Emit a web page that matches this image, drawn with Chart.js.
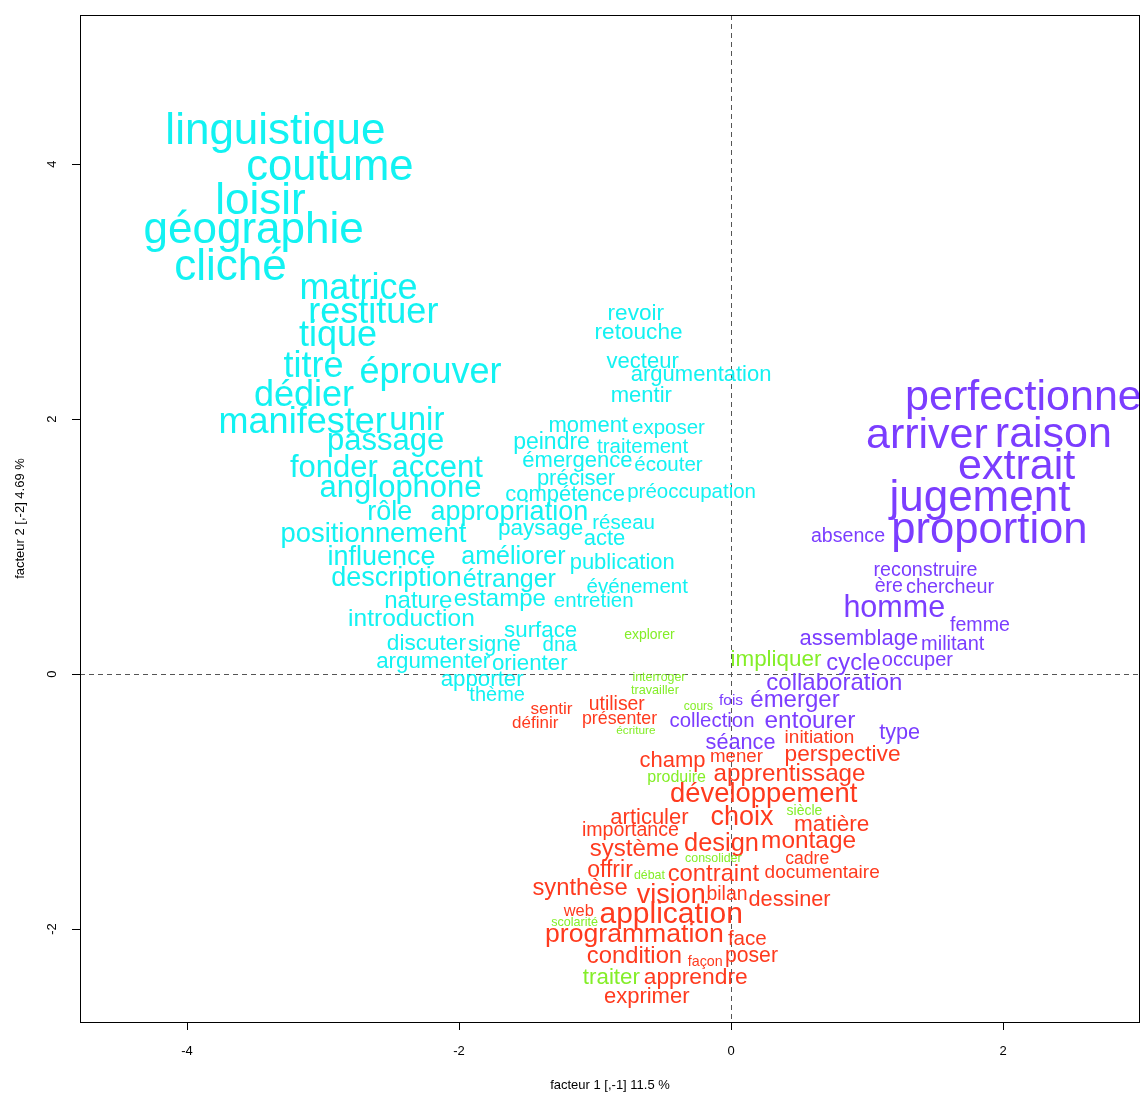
<!DOCTYPE html>
<html>
<head>
<meta charset="utf-8">
<script src="https://cdn.jsdelivr.net/npm/chart.js@4"></script>
<style>
  body { margin: 0; background: #fff; }
  canvas { display: block; }
</style>
</head>
<body>
<canvas id="afcChart" width="1141" height="1093"></canvas>
<script>
// Axis ticks
const xTicks = [-4, -2, 0, 2];
const yTicks = [-2, 0, 2, 4];

// Class 1 (cyan)
const cyanWords = ['linguistique', 'coutume', 'loisir', 'géographie', 'cliché', 'matrice', 'restituer', 'tique', 'titre', 'éprouver',
    'dédier', 'manifester', 'unir', 'passage', 'fonder', 'accent', 'anglophone', 'rôle', 'appropriation', 'positionnement',
    'influence', 'description', 'améliorer', 'étranger', 'publication', 'paysage', 'réseau', 'acte', 'nature', 'estampe',
    'événement', 'entretien', 'introduction', 'surface', 'discuter', 'signe', 'dna', 'argumenter', 'orienter', 'apporter',
    'thème', 'revoir', 'retouche', 'vecteur', 'argumentation', 'mentir', 'moment', 'exposer', 'peindre', 'traitement',
    'émergence', 'écouter', 'préciser', 'compétence', 'préoccupation'];
const cyanX = [-3.35, -2.95, -3.46, -3.51, -3.68, -2.74, -2.63, -2.89, -3.07, -2.21,
    -3.14, -3.15, -2.31, -2.54, -2.92, -2.16, -2.43, -2.51, -1.63, -2.63,
    -2.57, -2.46, -1.60, -1.63, -0.80, -1.40, -0.79, -0.93, -2.30, -1.70,
    -0.69, -1.01, -2.35, -1.40, -2.24, -1.74, -1.26, -2.19, -1.48, -1.83,
    -1.72, -0.70, -0.68, -0.65, -0.22, -0.66, -1.05, -0.46, -1.32, -0.65,
    -1.13, -0.46, -1.14, -1.22, -0.29];
const cyanY = [4.28, 3.99, 3.73, 3.50, 3.21, 3.04, 2.85, 2.67, 2.43, 2.38,
    2.20, 1.99, 2.00, 1.84, 1.63, 1.63, 1.47, 1.28, 1.28, 1.11,
    0.93, 0.76, 0.93, 0.75, 0.88, 1.15, 1.19, 1.07, 0.58, 0.60,
    0.69, 0.58, 0.44, 0.35, 0.25, 0.24, 0.24, 0.11, 0.09, -0.03,
    -0.16, 2.84, 2.69, 2.46, 2.36, 2.19, 1.96, 1.94, 1.83, 1.79,
    1.68, 1.65, 1.54, 1.42, 1.44];
const cyanCex = [3.67, 3.63, 3.67, 3.67, 3.67, 3.0, 3.0, 3.0, 3.0, 3.0,
    3.0, 3.0, 2.75, 2.58, 2.58, 2.58, 2.58, 2.25, 2.25, 2.28,
    2.25, 2.25, 2.08, 2.08, 1.83, 1.88, 1.71, 1.83, 2.0, 2.0,
    1.71, 1.71, 2.04, 1.86, 1.88, 1.83, 1.71, 1.86, 1.86, 1.86,
    1.67, 1.88, 1.88, 1.83, 1.83, 1.83, 1.83, 1.71, 1.92, 1.71,
    1.83, 1.71, 1.83, 1.83, 1.71];

// Class 2 (violet)
const violetWords = ['perfectionne', 'arriver', 'raison', 'extrait', 'jugement', 'proportion', 'absence', 'reconstruire', 'ère', 'chercheur',
    'homme', 'femme', 'assemblage', 'militant', 'cycle', 'occuper', 'collaboration', 'fois', 'émerger', 'collection',
    'entourer', 'type', 'séance'];
const violetX = [2.15, 1.44, 2.37, 2.10, 1.83, 1.90, 0.86, 1.43, 1.16, 1.61,
    1.20, 1.83, 0.94, 1.63, 0.90, 1.37, 0.76, 0.00, 0.47, -0.14,
    0.58, 1.24, 0.07];
const violetY = [2.19, 1.89, 1.90, 1.65, 1.40, 1.15, 1.09, 0.82, 0.70, 0.69,
    0.53, 0.39, 0.29, 0.24, 0.10, 0.12, -0.06, -0.20, -0.19, -0.36,
    -0.36, -0.45, -0.53];
const violetCex = [3.58, 3.58, 3.58, 3.58, 3.67, 3.63, 1.63, 1.64, 1.63, 1.65,
    2.54, 1.63, 1.83, 1.67, 1.98, 1.67, 2.0, 1.29, 2.0, 1.7,
    2.03, 1.81, 1.81];

// Class 3 (rouge)
const redWords = ['utiliser', 'sentir', 'présenter', 'définir', 'initiation', 'champ', 'mener', 'perspective', 'apprentissage', 'développement',
    'articuler', 'choix', 'matière', 'importance', 'système', 'design', 'montage', 'cadre', 'offrir', 'contraint',
    'documentaire', 'synthèse', 'vision', 'bilan', 'dessiner', 'web', 'application', 'programmation', 'face', 'condition',
    'poser', 'façon', 'apprendre', 'exprimer'];
const redX = [-0.84, -1.32, -0.82, -1.44, 0.65, -0.43, 0.04, 0.82, 0.43, 0.24,
    -0.60, 0.08, 0.74, -0.74, -0.71, -0.07, 0.57, 0.56, -0.89, -0.13,
    0.67, -1.11, -0.44, -0.03, 0.43, -1.12, -0.44, -0.71, 0.12, -0.71,
    0.15, -0.19, -0.26, -0.62];
const redY = [-0.23, -0.27, -0.34, -0.38, -0.49, -0.67, -0.64, -0.62, -0.77, -0.93,
    -1.12, -1.11, -1.17, -1.22, -1.36, -1.32, -1.30, -1.44, -1.53, -1.56,
    -1.55, -1.67, -1.72, -1.72, -1.76, -1.85, -1.87, -2.03, -2.07, -2.20,
    -2.20, -2.25, -2.37, -2.52];
const redCex = [1.62, 1.43, 1.48, 1.42, 1.58, 1.83, 1.56, 1.89, 2.02, 2.28,
    1.83, 2.25, 1.88, 1.63, 2.0, 2.12, 2.03, 1.47, 1.92, 1.98,
    1.58, 1.98, 2.25, 1.62, 1.81, 1.37, 2.5, 2.22, 1.72, 1.98,
    1.77, 1.19, 1.9, 1.83];

// Class 4 (vert)
const greenWords = ['explorer', 'impliquer', 'interroger', 'travailler', 'cours', 'écriture', 'produire', 'siècle', 'consolider', 'débat',
    'scolarité', 'traiter'];
const greenX = [-0.60, 0.33, -0.53, -0.56, -0.24, -0.70, -0.40, 0.54, -0.13, -0.60,
    -1.15, -0.88];
const greenY = [0.31, 0.12, -0.02, -0.12, -0.25, -0.44, -0.80, -1.07, -1.44, -1.57,
    -1.94, -2.37];
const greenCex = [1.17, 1.87, 1.03, 1.06, 1.0, 0.98, 1.33, 1.17, 1.03, 1.03,
    1.05, 1.86];

const FONT = '"Liberation Sans", Arial, Helvetica, sans-serif';
const BASE_SIZE = 12;

function makeDataset(label, words, xs, ys, cex, color) {
    return {
        label: label,
        words: words,
        cex: cex,
        color: color,
        data: xs.map((x, i) => ({ x: x, y: ys[i] })),
        pointRadius: 0,
        pointHoverRadius: 0
    };
}

// Dashed zero lines and frame
const framePlugin = {
    id: 'frame',
    beforeDatasetsDraw(chart) {
        const { ctx, chartArea, scales } = chart;
        const x0 = scales.x.getPixelForValue(0);
        const y0 = scales.y.getPixelForValue(0);
        ctx.save();
        ctx.strokeStyle = '#555';
        ctx.lineWidth = 1;
        ctx.setLineDash([5, 4]);
        ctx.beginPath();
        ctx.moveTo(Math.round(x0) + 0.5, chartArea.top);
        ctx.lineTo(Math.round(x0) + 0.5, chartArea.bottom);
        ctx.moveTo(chartArea.left, Math.round(y0) + 0.5);
        ctx.lineTo(chartArea.right, Math.round(y0) + 0.5);
        ctx.stroke();
        ctx.restore();
    },
    afterDraw(chart) {
        const { ctx, chartArea } = chart;
        ctx.save();
        ctx.strokeStyle = '#000';
        ctx.lineWidth = 1;
        ctx.strokeRect(chartArea.left + 0.5, chartArea.top + 0.5,
            chartArea.right - chartArea.left - 1, chartArea.bottom - chartArea.top);
        ctx.restore();
    }
};

// Draw each word centred on its point
const wordPlugin = {
    id: 'words',
    afterDatasetsDraw(chart) {
        const { ctx, chartArea } = chart;
        ctx.save();
        ctx.beginPath();
        ctx.rect(chartArea.left, chartArea.top, chartArea.right - chartArea.left, chartArea.bottom - chartArea.top);
        ctx.clip();
        ctx.textAlign = 'center';
        ctx.textBaseline = 'middle';
        chart.data.datasets.forEach((ds, i) => {
            const meta = chart.getDatasetMeta(i);
            ctx.fillStyle = ds.color;
            meta.data.forEach((pt, j) => {
                const size = ds.cex[j] * BASE_SIZE;
                ctx.font = size.toFixed(1) + 'px ' + FONT;
                // nudge so the x-height sits on the point, like R's text()
                ctx.fillText(ds.words[j], pt.x, pt.y + size * 0.07);
            });
        });
        ctx.restore();
    }
};

const afcChart = new Chart(document.getElementById('afcChart'), {
    type: 'scatter',
    data: {
        datasets: [
            makeDataset('classe 1', cyanWords, cyanX, cyanY, cyanCex, '#12F2F2'),
            makeDataset('classe 2', violetWords, violetX, violetY, violetCex, '#7B3DFF'),
            makeDataset('classe 3', redWords, redX, redY, redCex, '#FF3A1E'),
            makeDataset('classe 4', greenWords, greenX, greenY, greenCex, '#84EE28')
        ]
    },
    options: {
        responsive: false,
        animation: false,
        devicePixelRatio: 1,
        layout: { padding: { top: 15, right: 1, left: 0, bottom: 0 } },
        plugins: {
            legend: { display: false },
            tooltip: { enabled: false }
        },
        scales: {
            x: {
                type: 'linear',
                min: -4.787,
                max: 3.007,
                afterBuildTicks: axis => { axis.ticks = xTicks.map(v => ({ value: v })); },
                afterFit: axis => { axis.height = 71; axis.paddingLeft = 0; axis.paddingRight = 0; },
                border: { display: false },
                grid: { drawOnChartArea: false, drawTicks: true, tickLength: 8, color: '#000' },
                ticks: { color: '#000', font: { family: FONT, size: 13 }, padding: 14, maxRotation: 0 },
                title: {
                    display: true,
                    text: 'facteur 1 [,-1] 11.5 %',
                    color: '#000',
                    font: { family: FONT, size: 13 },
                    padding: { top: 0, bottom: 0 }
                }
            },
            y: {
                type: 'linear',
                min: -2.729,
                max: 5.169,
                afterBuildTicks: axis => { axis.ticks = yTicks.map(v => ({ value: v })); },
                afterFit: axis => { axis.width = 80; axis.paddingTop = 0; axis.paddingBottom = 0; },
                border: { display: false },
                grid: { drawOnChartArea: false, drawTicks: true, tickLength: 8, color: '#000' },
                ticks: {
                    color: '#000',
                    font: { family: FONT, size: 13 },
                    padding: 14,
                    minRotation: 90,
                    maxRotation: 90,
                    crossAlign: 'center'
                },
                title: {
                    display: true,
                    text: 'facteur 2 [,-2] 4.69 %',
                    color: '#000',
                    font: { family: FONT, size: 13 },
                    padding: { top: 13, bottom: 0 }
                }
            }
        }
    },
    plugins: [framePlugin, wordPlugin]
});
</script>
</body>
</html>
